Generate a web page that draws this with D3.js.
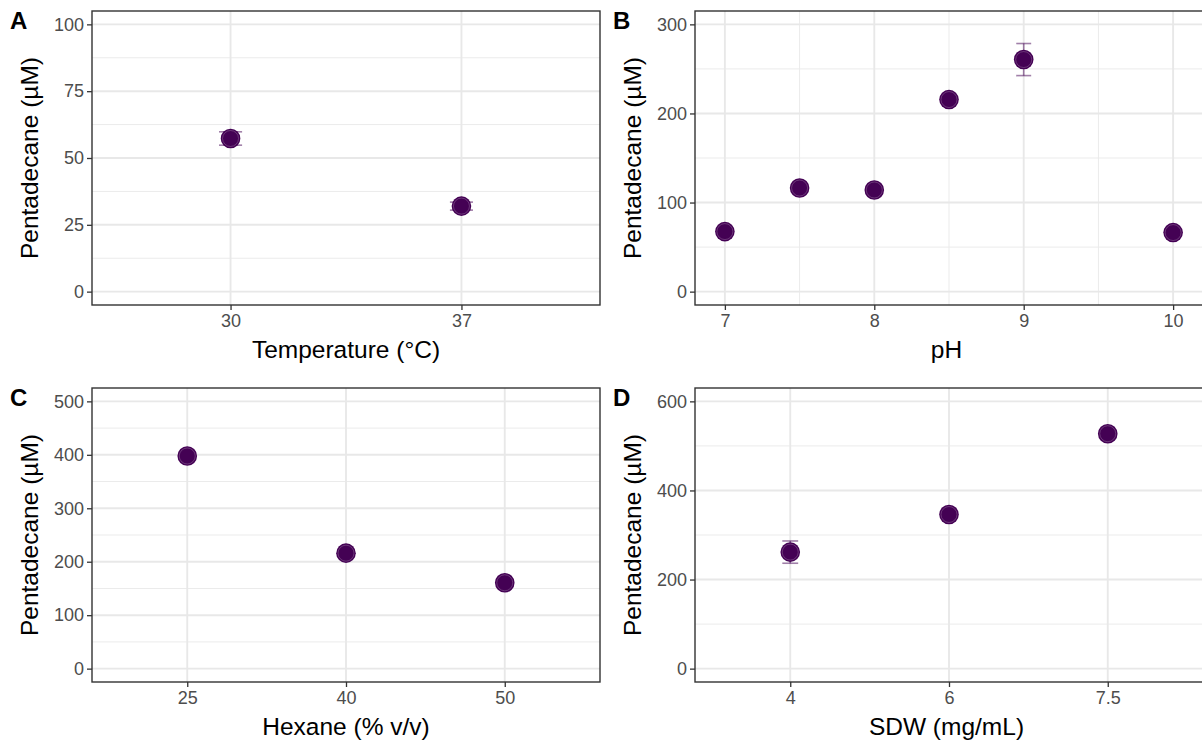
<!DOCTYPE html>
<html>
<head>
<meta charset="utf-8">
<script src="https://cdn.jsdelivr.net/npm/d3@7"></script>
<style>
  body { margin: 0; background: #fff; }
  svg { display: block; font-family: "Liberation Sans", Arial, sans-serif; }
</style>
</head>
<body>
<svg id="chart" width="1202" height="741"></svg>
<script>
// values
const tempCats = ["30", "37"];
const tempMean = [57.3, 32.0];
const tempErr = [2.5, 1.5];
const tempTicks = [0, 25, 50, 75, 100];

const phVals = [7, 7.5, 8, 8.5, 9, 10];
const phMean = [67.4, 116.3, 114.1, 215.6, 260.5, 66.3];
const phErr = [2, 4, 2, 4, 18, 2];
const phTicks = [0, 100, 200, 300];
const phXTicks = [7, 8, 9, 10];

const hexCats = ["25", "40", "50"];
const hexMean = [397.8, 216.0, 160.6];
const hexErr = [5, 6, 6];
const hexTicks = [0, 100, 200, 300, 400, 500];

const sdwCats = ["4", "6", "7.5"];
const sdwMean = [261.6, 346.0, 527.4];
const sdwErr = [25, 10, 8];
const sdwTicks = [0, 200, 400, 600];

const yTitle = "Pentadecane (\u00b5M)";
const pointFill = "#440154";

const svg = d3.select("#chart");

const cols = [{ left: 92, right: 600 }, { left: 695, right: 1203 }];
const rows = [{ top: 11, bottom: 305 }, { top: 388, bottom: 682 }];

function makePanel(cfg) {
    let col = cols[cfg.col], row = rows[cfg.row];
    let g = svg.append("g");
    let w = col.right - col.left, h = row.bottom - row.top;

    let ymax = d3.max(cfg.yTicks), ymin = 0;
    let pad = (ymax - ymin) * 0.05;
    let yscale = d3.scaleLinear([ymin - pad, ymax + pad], [row.bottom, row.top]);

    let xscale, xpos, capHalf;
    if (cfg.discrete) {
        xscale = d3.scalePoint(cfg.x, [col.left, col.right]).padding(0.6);
        xpos = d => xscale(d);
        capHalf = xscale.step() * 0.05;
    } else {
        xscale = d3.scaleLinear(cfg.xDomain, [col.left, col.right]);
        xpos = d => xscale(d);
        capHalf = Math.abs(xscale(0.05) - xscale(0));
    }

    // minor grid
    let yMinor = d3.pairs(cfg.yTicks).map(p => (p[0] + p[1]) / 2);
    g.selectAll(".yminor").data(yMinor).enter().append("line")
        .attr("x1", col.left).attr("x2", col.right)
        .attr("y1", d => yscale(d)).attr("y2", d => yscale(d))
        .attr("stroke", "#ebebeb").attr("stroke-width", 1);
    if (!cfg.discrete) {
        let xMinor = d3.pairs(cfg.xTicks).map(p => (p[0] + p[1]) / 2);
        g.selectAll(".xminor").data(xMinor).enter().append("line")
            .attr("y1", row.top).attr("y2", row.bottom)
            .attr("x1", d => xscale(d)).attr("x2", d => xscale(d))
            .attr("stroke", "#ebebeb").attr("stroke-width", 1);
    }
    // major grid
    g.selectAll(".ymajor").data(cfg.yTicks).enter().append("line")
        .attr("x1", col.left).attr("x2", col.right)
        .attr("y1", d => yscale(d)).attr("y2", d => yscale(d))
        .attr("stroke", "#e8e8e8").attr("stroke-width", 1.9);
    let xMajor = cfg.discrete ? cfg.x : cfg.xTicks;
    g.selectAll(".xmajor").data(xMajor).enter().append("line")
        .attr("y1", row.top).attr("y2", row.bottom)
        .attr("x1", d => xpos(d)).attr("x2", d => xpos(d))
        .attr("stroke", "#e8e8e8").attr("stroke-width", 1.9);

    // axes
    let yaxis = d3.axisLeft(yscale).tickValues(cfg.yTicks).tickSize(5).tickPadding(3);
    let xaxis = d3.axisBottom(xscale).tickSize(5).tickPadding(4);
    if (!cfg.discrete) xaxis.tickValues(cfg.xTicks).tickFormat(d3.format("d"));
    let ya = g.append("g").attr("transform", `translate(${col.left},0)`).call(yaxis);
    let xa = g.append("g").attr("transform", `translate(0,${row.bottom})`).call(xaxis);
    [ya, xa].forEach(a => {
        a.select(".domain").remove();
        a.selectAll(".tick line").attr("stroke", "#333333").attr("stroke-width", 1.3);
        a.selectAll(".tick text").attr("fill", "#4d4d4d").style("font-size", "18px")
            .style("font-family", "'Liberation Sans', Arial, sans-serif");
    });

    // error bars
    let pts = cfg.x.map((x, i) => ({ x: x, y: cfg.mean[i], e: cfg.err[i] }));
    let eb = g.selectAll(".err").data(pts).enter().append("g")
        .attr("stroke", pointFill).attr("stroke-opacity", 0.5).attr("stroke-width", 1.6);
    eb.append("line")
        .attr("x1", d => xpos(d.x)).attr("x2", d => xpos(d.x))
        .attr("y1", d => yscale(d.y - d.e)).attr("y2", d => yscale(d.y + d.e));
    eb.append("line")
        .attr("x1", d => xpos(d.x) - capHalf).attr("x2", d => xpos(d.x) + capHalf)
        .attr("y1", d => yscale(d.y + d.e)).attr("y2", d => yscale(d.y + d.e));
    eb.append("line")
        .attr("x1", d => xpos(d.x) - capHalf).attr("x2", d => xpos(d.x) + capHalf)
        .attr("y1", d => yscale(d.y - d.e)).attr("y2", d => yscale(d.y - d.e));

    // points
    g.selectAll(".dots").data(pts).enter().append("circle")
        .attr("cx", d => xpos(d.x)).attr("cy", d => yscale(d.y))
        .attr("r", 9.8).attr("fill", pointFill);
    g.selectAll(".rings").data(pts).enter().append("circle")
        .attr("cx", d => xpos(d.x)).attr("cy", d => yscale(d.y))
        .attr("r", 8).attr("fill", "none")
        .attr("stroke", "#ffffff").attr("stroke-opacity", 0.3).attr("stroke-width", 0.7);

    // panel border
    g.append("rect")
        .attr("x", col.left).attr("y", row.top)
        .attr("width", w).attr("height", h)
        .attr("fill", "none").attr("stroke", "#333333").attr("stroke-width", 1.4);

    // titles
    g.append("text")
        .attr("x", (col.left + Math.min(col.right, 1202)) / 2 + (cfg.col === 1 ? -2 : 0))
        .attr("y", row.bottom + 53)
        .attr("text-anchor", "middle").style("font-size", "24.5px").attr("fill", "#000")
        .text(cfg.xTitle);
    g.append("text")
        .attr("transform", `translate(${col.left - 54},${(row.top + row.bottom) / 2}) rotate(-90)`)
        .attr("text-anchor", "middle").style("font-size", "24.5px").attr("fill", "#000")
        .text(yTitle);
    g.append("text")
        .attr("x", col.left - 82).attr("y", row.top + 18)
        .style("font-size", "24px").style("font-weight", "bold").attr("fill", "#000")
        .text(cfg.tag);
}

makePanel({ col: 0, row: 0, tag: "A", discrete: true, x: tempCats, mean: tempMean, err: tempErr,
    yTicks: tempTicks, xTitle: "Temperature (\u00b0C)" });
makePanel({ col: 1, row: 0, tag: "B", discrete: false, x: phVals, mean: phMean, err: phErr,
    xDomain: [6.8, 10.2], xTicks: phXTicks, yTicks: phTicks, xTitle: "pH" });
makePanel({ col: 0, row: 1, tag: "C", discrete: true, x: hexCats, mean: hexMean, err: hexErr,
    yTicks: hexTicks, xTitle: "Hexane (% v/v)" });
makePanel({ col: 1, row: 1, tag: "D", discrete: true, x: sdwCats, mean: sdwMean, err: sdwErr,
    yTicks: sdwTicks, xTitle: "SDW (mg/mL)" });
</script>
</body>
</html>
